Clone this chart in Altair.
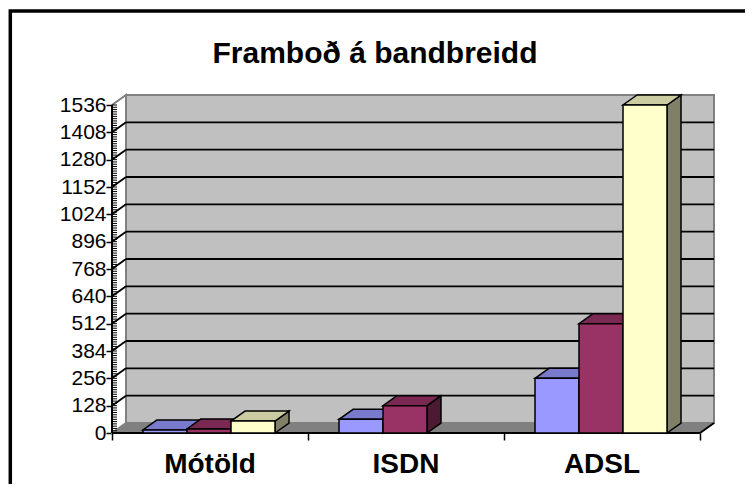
import altair as alt
import pandas as pd

# ---------------- data ----------------
CATEGORIES = ["Mótöld", "ISDN", "ADSL"]
SERIES_1 = [14.4, 64, 256]
SERIES_2 = [19.2, 128, 512]
SERIES_3 = [56, None, 1536]
Y_TICKS = [0, 128, 256, 384, 512, 640, 768, 896, 1024, 1152, 1280, 1408, 1536]
TITLE = "Framboð á bandbreidd"

FRONT = ["#9999FF", "#993366", "#FFFFCC"]
TOP = ["#7A7ACC", "#7A2952", "#CCCCA3"]
SIDE = ["#4D4D80", "#4D1A33", "#808066"]

# ---------------- geometry (styling) ----------------
W, H = 602, 338
CAT_PX = 196.0
DX = 14 / CAT_PX                      # depth in x units
DY = 10 * Y_TICKS[-1] / 328.0         # depth in y units
X_MAX = len(CATEGORIES) + DX
Y_MAX = Y_TICKS[-1] + DY
GAP = 31 / CAT_PX
BAR_W = 44 / CAT_PX
FONT = "Liberation Sans"

xs = alt.Scale(domain=[0, X_MAX], nice=False, zero=False, padding=0)
ys = alt.Scale(domain=[0, Y_MAX], nice=False, zero=False, padding=0)

X_AXIS = alt.Axis(values=[0, 1, 2, 3], title=None, domain=False, grid=False,
                  labels=False, ticks=True, tickSize=7, tickWidth=1.5, tickColor="black")
Y_AXIS = alt.Axis(values=Y_TICKS, title=None, domain=False, grid=False,
                  ticks=True, tickSize=6, tickWidth=1.5, tickColor="black",
                  labelFont=FONT, labelFontSize=21, labelColor="black",
                  labelPadding=0, labelOverlap=False, labelFlush=False, format="d")


def X(f, **kw):
    return alt.X(f, type="quantitative", scale=xs, axis=X_AXIS, **kw)


def Y(f, **kw):
    return alt.Y(f, type="quantitative", scale=ys, axis=Y_AXIS, **kw)


# ---------------- build tables ----------------
series = [SERIES_1, SERIES_2, SERIES_3]
front_rows, top_rows, side_rows = [], [], []
bid = 0
for ci, cat in enumerate(CATEGORIES):
    for sj, vals in enumerate(series):
        v = vals[ci]
        if v is None:
            continue
        x0 = ci + GAP + sj * BAR_W
        x1 = x0 + BAR_W
        front_rows.append(dict(bar=bid, fx0=x0, fx1=x1, fy0=0, fy1=v, c=FRONT[sj]))
        top_rows.append(dict(bar=bid, ty=v, tx0=x0, tx1=x1, c=TOP[sj]))
        top_rows.append(dict(bar=bid, ty=v + DY, tx0=x0 + DX, tx1=x1 + DX, c=TOP[sj]))
        side_rows.append(dict(bar=bid, sx=x1, sy0=0, sy1=v, c=SIDE[sj]))
        side_rows.append(dict(bar=bid, sx=x1 + DX, sy0=DY, sy1=v + DY, c=SIDE[sj]))
        bid += 1

fronts = pd.DataFrame(front_rows)
tops = pd.DataFrame(top_rows)
sides = pd.DataFrame(side_rows)

inner = Y_TICKS[1:-1]
grid_df = pd.DataFrame({"gv": [t + DY for t in inner], "gx0": DX, "gx1": X_MAX})
slant_df = pd.DataFrame({"sy0": inner, "sy1": [t + DY for t in inner], "sx0": 0.0, "sx1": DX})
MINOR_STEP = Y_TICKS[1] / 12
minor_df = pd.DataFrame({"mv": [i * MINOR_STEP for i in range(int(Y_TICKS[-1] / MINOR_STEP) + 1)]})

wall_df = pd.DataFrame({"wx0": [DX], "wx1": [X_MAX], "wy0": [DY], "wy1": [Y_MAX]})
leftwall_df = pd.DataFrame({"lx": [0, DX], "ly0": [0, DY], "ly1": [Y_TICKS[-1], Y_MAX]})
floor_df = pd.DataFrame({"fy": [0, DY], "fx0": [0, DX], "fx1": [len(CATEGORIES), X_MAX]})
xline_df = pd.DataFrame({"ax0": [0.0], "ax1": [float(len(CATEGORIES))], "ay": [0.0]})
xend_df = pd.DataFrame({"ex0": [float(len(CATEGORIES))], "ex1": [X_MAX], "ey0": [0.0], "ey1": [DY]})
yline_df = pd.DataFrame({"yx": [0.0], "yy0": [0.0], "yy1": [float(Y_TICKS[-1])]})
cat_df = pd.DataFrame({"cat": CATEGORIES, "cx": [i + 0.5 for i in range(len(CATEGORIES))], "cy": 0.0})
one = pd.DataFrame({"a": [0]})

# ---------------- layers ----------------
border = alt.Chart(one).mark_rect(fill="transparent", stroke="black", strokeWidth=3.5).encode(
    x=alt.value(-101.7), x2=alt.value(900), y=alt.value(-84), y2=alt.value(600))

leftwall = alt.Chart(leftwall_df).mark_area(
    orient="vertical", fill="white", stroke="#808080", strokeWidth=2).encode(
    x=X("lx"), y=Y("ly0", stack=None), y2="ly1")

wall = alt.Chart(wall_df).mark_rect(fill="#C0C0C0", stroke="#808080", strokeWidth=2).encode(
    x=X("wx0"), x2="wx1", y=Y("wy0"), y2="wy1")

floor = alt.Chart(floor_df).mark_area(
    orient="horizontal", fill="#808080", stroke="#808080", strokeWidth=1).encode(
    y=Y("fy"), x=X("fx0", stack=None), x2="fx1")

grid = alt.Chart(grid_df).mark_rule(color="black", strokeWidth=1.8).encode(
    x=X("gx0"), x2="gx1", y=Y("gv"))

slants = alt.Chart(slant_df).mark_rule(color="black", strokeWidth=1.8).encode(
    x=X("sx0"), x2="sx1", y=Y("sy0"), y2="sy1")

xline = alt.Chart(xline_df).mark_rule(color="black", strokeWidth=2).encode(
    x=X("ax0"), x2="ax1", y=Y("ay"))

xend = alt.Chart(xend_df).mark_rule(color="black", strokeWidth=2).encode(
    x=X("ex0"), x2="ex1", y=Y("ey0"), y2="ey1")

bar_sides = alt.Chart(sides).mark_area(
    orient="vertical", stroke="black", strokeWidth=1.5, strokeJoin="miter").encode(
    x=X("sx"), y=Y("sy0", stack=None), y2="sy1", detail="bar:N",
    fill=alt.Fill("c:N", scale=None))

bar_tops = alt.Chart(tops).mark_area(
    orient="horizontal", stroke="black", strokeWidth=1.5, strokeJoin="miter").encode(
    y=Y("ty"), x=X("tx0", stack=None), x2="tx1", detail="bar:N",
    fill=alt.Fill("c:N", scale=None))

bar_fronts = alt.Chart(fronts).mark_rect(stroke="black", strokeWidth=1.5).encode(
    x=X("fx0"), x2="fx1", y=Y("fy0"), y2="fy1",
    fill=alt.Fill("c:N", scale=None))

minor = alt.Chart(minor_df).mark_rule(color="black", strokeWidth=1).encode(
    x=alt.value(0), x2=alt.value(5), y=Y("mv"))

yline = alt.Chart(yline_df).mark_rule(color="black", strokeWidth=2).encode(
    x=X("yx"), y=Y("yy0"), y2="yy1")

cats = alt.Chart(cat_df).mark_text(
    font=FONT, fontSize=28, fontWeight="bold", color="black",
    baseline="alphabetic", align="center", dy=40).encode(
    x=X("cx"), y=Y("cy"), text="cat:N")

title = alt.Chart(one).mark_text(
    font=FONT, fontSize=30, fontWeight="bold", color="black",
    baseline="alphabetic", align="center").encode(
    x=alt.value(263), y=alt.value(-32), text=alt.value(TITLE))

chart = alt.layer(
    border, leftwall, wall, floor, grid, slants, xline, xend,
    bar_sides, bar_tops, bar_fronts, minor, yline, cats, title
).properties(
    width=W, height=H,
    autosize=alt.AutoSizeParams(type="none"),
    padding={"left": 104, "top": 87, "right": 31, "bottom": 51},
    background="white",
).configure_view(strokeWidth=0)

chart.save("out.html", embed_options={"renderer": "svg", "actions": False})
